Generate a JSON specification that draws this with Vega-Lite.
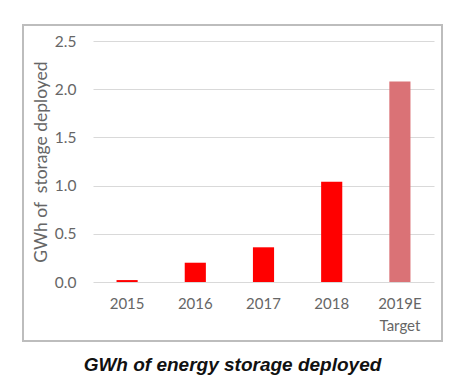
{
  "$schema": "https://vega.github.io/schema/vega-lite/v6.json",
  "width": 419,
  "height": 316,
  "autosize": {"type": "none"},
  "padding": {"left": 23, "top": 25, "right": 15, "bottom": 48},
  "background": "white",
  "title": {
    "text": "GWh of energy storage deployed",
    "orient": "bottom",
    "anchor": "middle",
    "font": "Liberation Sans",
    "fontSize": 19,
    "fontWeight": "bold",
    "fontStyle": "italic",
    "color": "#111111",
    "offset": 15
  },
  "config": {
    "view": {"stroke": "#bdbdbd", "strokeWidth": 2},
    "axis": {"labelFont": "Lato", "titleFont": "Lato", "labelColor": "#666666", "titleColor": "#666666"}
  },
  "data": {
    "values": [
      {"year": "2015", "value": 0.02, "kind": "actual"},
      {"year": "2016", "value": 0.2, "kind": "actual"},
      {"year": "2017", "value": 0.36, "kind": "actual"},
      {"year": "2018", "value": 1.04, "kind": "actual"},
      {"year": "2019E Target", "value": 2.08, "kind": "target"}
    ]
  },
  "mark": {"type": "bar"},
  "encoding": {
    "x": {
      "field": "year",
      "type": "nominal",
      "sort": null,
      "scale": {"type": "band", "range": [70, 411], "paddingInner": 0.69, "paddingOuter": 0.345},
      "axis": {
        "orient": "bottom",
        "offset": -59,
        "title": null,
        "labelAngle": 0,
        "labelFontSize": 15,
        "labelPadding": 14,
        "ticks": false,
        "tickSize": 0,
        "domain": false,
        "grid": false,
        "labelExpr": "split(datum.label, ' ')",
        "labelLineHeight": 22
      }
    },
    "y": {
      "field": "value",
      "type": "quantitative",
      "scale": {"domain": [0, 2.5], "range": [257, 16], "nice": false},
      "axis": {
        "orient": "left",
        "offset": -70,
        "title": "GWh of\u00a0 storage deployed",
        "titleFontSize": 17.5,
        "titleFontWeight": "normal",
        "titlePadding": 4,
        "values": [0, 0.5, 1, 1.5, 2, 2.5],
        "format": ".1f",
        "labelFontSize": 15.5,
        "labelPadding": 17,
        "ticks": false,
        "tickSize": 0,
        "domain": false,
        "grid": true,
        "gridColor": "#d9d9d9",
        "gridWidth": 1.2
      }
    },
    "color": {
      "field": "kind",
      "type": "nominal",
      "scale": {"domain": ["actual", "target"], "range": ["#ff0000", "#da7276"]},
      "legend": null
    }
  }
}
